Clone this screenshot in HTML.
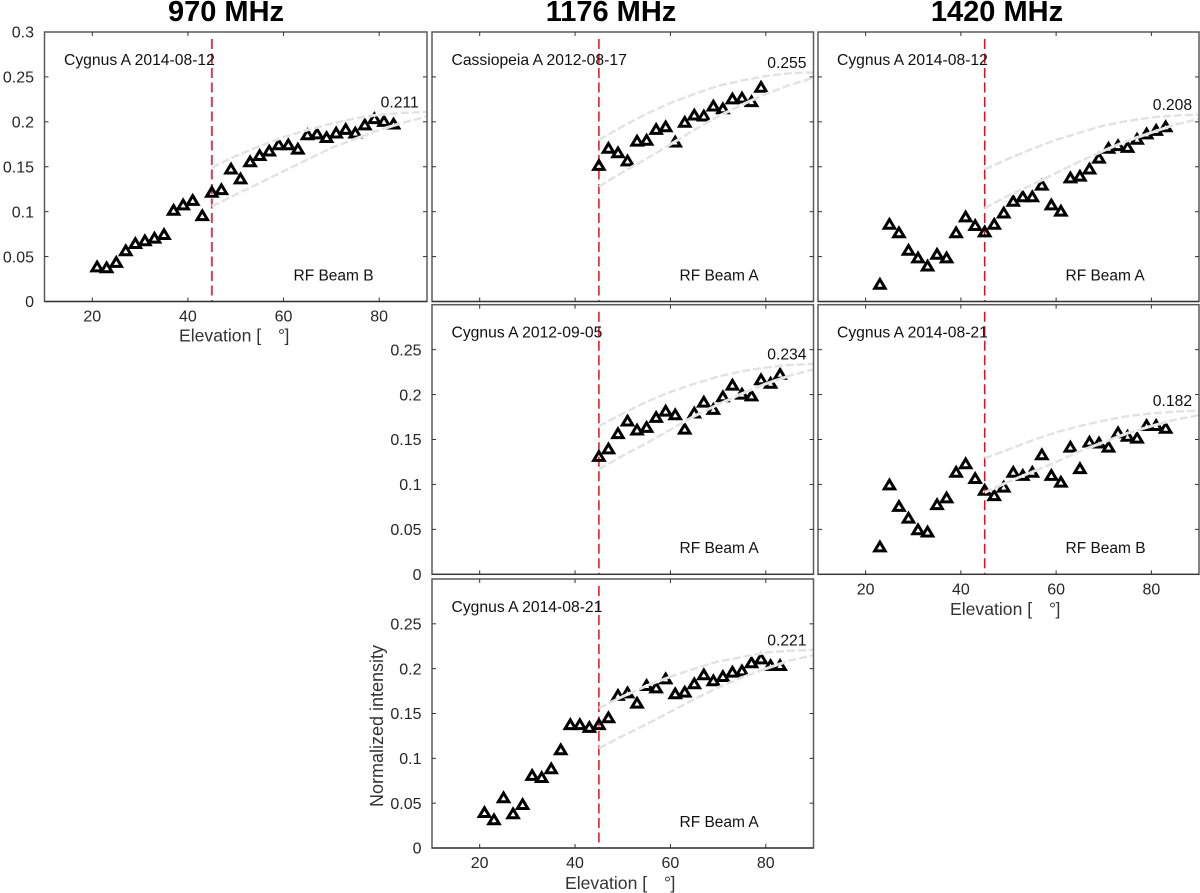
<!DOCTYPE html>
<html lang="en">
<head>
<meta charset="utf-8">
<title>Normalized intensity vs elevation</title>
<style>
html,body{margin:0;padding:0;background:#fff;}
svg{display:block;font-family:"Liberation Sans",Arial,sans-serif;}
.title{font-size:29px;font-weight:bold;fill:#000;text-anchor:middle;}
.note{font-size:15.7px;fill:#111;}
.beam{font-size:15.5px;fill:#111;}
.axis-title{font-size:17.6px;fill:#333;}
</style>
</head>
<body>
<svg id="chart" xmlns="http://www.w3.org/2000/svg" width="1200" height="893" viewBox="0 0 1200 893">
  <rect x="0" y="0" width="1200" height="893" fill="#fff"/>
  <g id="marks"></g>
  <text class="title" x="226" y="21">970 MHz</text>
  <text class="title" x="611" y="21">1176 MHz</text>
  <text class="title" x="997" y="21">1420 MHz</text>

  <text class="note" x="64" y="65">Cygnus A 2014-08-12</text>
  <text class="note" x="451.5" y="65">Cassiopeia A 2012-08-17</text>
  <text class="note" x="837" y="65">Cygnus A 2014-08-12</text>
  <text class="note" x="451.5" y="337.5">Cygnus A 2012-09-05</text>
  <text class="note" x="837" y="337.5">Cygnus A 2014-08-21</text>
  <text class="note" x="451.5" y="612">Cygnus A 2014-08-21</text>

  <text class="beam" x="293.5" y="280.5">RF Beam B</text>
  <text class="beam" x="679.5" y="280.5">RF Beam A</text>
  <text class="beam" x="1065.5" y="280.5">RF Beam A</text>
  <text class="beam" x="679.5" y="553">RF Beam A</text>
  <text class="beam" x="1065.5" y="553">RF Beam B</text>
  <text class="beam" x="679.5" y="827">RF Beam A</text>

  <g>
    <text class="axis-title" x="179" y="341.5">Elevation [</text>
    <text class="axis-title" x="278" y="341.5">°</text>
    <text class="axis-title" x="284.5" y="341.5">]</text>
  </g>
  <g>
    <text class="axis-title" x="950" y="615">Elevation [</text>
    <text class="axis-title" x="1049" y="615">°</text>
    <text class="axis-title" x="1055.5" y="615">]</text>
  </g>
  <g>
    <text class="axis-title" x="565" y="889">Elevation [</text>
    <text class="axis-title" x="664" y="889">°</text>
    <text class="axis-title" x="670.5" y="889">]</text>
  </g>
  <text class="axis-title" font-size="18" style="font-size:18px" text-anchor="middle" transform="translate(383,726) rotate(-90)">Normalized intensity</text>
</svg>
<script>
// ---- tick labels ----
const xTicks = [20, 40, 60, 80];
const yTicksFull = [0, 0.05, 0.1, 0.15, 0.2, 0.25, 0.3];
const yTickText = ['0', '0.05', '0.1', '0.15', '0.2', '0.25', '0.3'];
const xTickText = ['20', '40', '60', '80'];
const cutoffElevation = 45;
const curveElevations = [45, 50, 55, 60, 65, 70, 75, 80, 85, 90];

// ---- 970 MHz, Cygnus A 2014-08-12 ----
const elev970a = [21,23,25,27,29,31,33,35,37,39,41,43,45,47,49,51,53,55,57,59,61,63,65,67,69,71,73,75,77,79,81,83];
const values970a = [.039,.038,.044,.057,.065,.068,.071,.075,.102,.108,.113,.096,.122,.125,.148,.137,.156,.163,.168,.175,.175,.170,.186,.187,.183,.188,.192,.188,.197,.204,.201,.198];
const upper970a = [.149,.162,.173,.183,.191,.198,.204,.208,.210,.211];
const lower970a = [.106,.119,.132,.145,.158,.171,.181,.191,.199,.206];

// ---- 1176 MHz, Cassiopeia A 2012-08-17 ----
const elev1176a = [45,47,49,51,53,55,57,59,61,63,65,67,69,71,73,75,77,79];
const values1176a = [.152,.171,.166,.157,.179,.180,.192,.195,.178,.200,.208,.207,.218,.215,.226,.227,.223,.239];
const upper1176a = [.180,.195,.209,.221,.231,.240,.246,.251,.254,.255];
const lower1176a = [.128,.144,.159,.175,.191,.206,.219,.231,.241,.249];

// ---- 1420 MHz, Cygnus A 2014-08-12 ----
const elev1420a = [23,25,27,29,31,33,35,37,39,41,43,45,47,49,51,53,55,57,59,61,63,65,67,69,71,73,75,77,79,81,83];
const values1420a = [.0197,.0865,.077,.0575,.049,.040,.053,.049,.077,.0947,.085,.078,.0865,.099,.112,.117,.117,.130,.108,.101,.138,.140,.148,.160,.171,.174,.172,.181,.187,.191,.195];
const upper1420a = [.147,.159,.170,.180,.188,.196,.201,.205,.207,.208];
const lower1420a = [.104,.118,.130,.143,.156,.168,.179,.188,.197,.203];

// ---- 1176 MHz, Cygnus A 2012-09-05 ----
const elev1176b = [45,47,49,51,53,55,57,59,61,63,65,67,69,71,73,75,77,79,81,83];
const values1176b = [.1317,.140,.157,.171,.161,.164,.175,.182,.178,.162,.180,.192,.184,.198,.211,.201,.199,.217,.213,.223];
const upper1176b = [.165,.179,.192,.203,.212,.220,.226,.230,.233,.234];
const lower1176b = [.117,.132,.146,.161,.176,.189,.201,.212,.221,.228];

// ---- 1420 MHz, Cygnus A 2014-08-21 ----
const elev1420b = [23,25,27,29,31,33,35,37,39,41,43,45,47,49,51,53,55,57,59,61,63,65,67,69,71,73,75,77,79,81,83];
const values1420b = [.031,.100,.076,.063,.050,.0475,.078,.0855,.114,.1235,.107,.094,.088,.0975,.114,.1105,.114,.1335,.1105,.103,.142,.118,.1475,.1465,.142,.158,.154,.152,.166,.166,.163];
const upper1420b = [.129,.139,.149,.158,.165,.171,.176,.179,.181,.182];
const lower1420b = [.091,.103,.114,.125,.137,.147,.157,.165,.172,.177];

// ---- 1176 MHz, Cygnus A 2014-08-21 ----
const elev1176c = [21,23,25,27,29,31,33,35,37,39,41,43,45,47,49,51,53,55,57,59,61,63,65,67,69,71,73,75,77,79,81,83];
const values1176c = [.040,.032,.0565,.0386,.049,.0814,.079,.0888,.110,.138,.138,.135,.138,.1457,.1706,.1735,.162,.1817,.179,.189,.1724,.1743,.1836,.1936,.187,.1917,.1966,.198,.207,.2114,.204,.204];
const upper1176c = [.156,.169,.181,.191,.200,.208,.213,.218,.220,.221];
const lower1176c = [.111,.125,.138,.152,.166,.179,.190,.200,.209,.215];

// ---- printed peak values ----
const peakValues = [0.211, 0.255, 0.208, 0.234, 0.182, 0.221];
const peakText = ['0.211', '0.255', '0.208', '0.234', '0.182', '0.221'];

const xDomain = [10, 90];
const yDomain = [0, 0.3];

const panels = [
  {id:'970-a',  box:[44.5,427,32,301.5],   elev:elev970a,  vals:values970a,  up:upper970a,  lo:lower970a,  peak:0, xl:true,  yl:true,  top:true,  red:'#cf4156', rw:2},
  {id:'1176-a', box:[432,813.5,32,301.5],  elev:elev1176a, vals:values1176a, up:upper1176a, lo:lower1176a, peak:1, xl:false, yl:false, top:false, red:'#dc1020', rw:1.5},
  {id:'1420-a', box:[818,1199,32,301.5],   elev:elev1420a, vals:values1420a, up:upper1420a, lo:lower1420a, peak:2, xl:false, yl:false, top:false, red:'#dc1020', rw:1.5},
  {id:'1176-b', box:[432,813.5,304.7,574.3], elev:elev1176b, vals:values1176b, up:upper1176b, lo:lower1176b, peak:3, xl:false, yl:true,  top:false, red:'#dc1020', rw:1.5},
  {id:'1420-b', box:[818,1199,304.7,574.3],  elev:elev1420b, vals:values1420b, up:upper1420b, lo:lower1420b, peak:4, xl:true,  yl:false, top:false, red:'#dc1020', rw:1.5},
  {id:'1176-c', box:[432,813.5,579,848],   elev:elev1176c, vals:values1176c, up:upper1176c, lo:lower1176c, peak:5, xl:true,  yl:true,  top:false, red:'#dc1020', rw:1.5}
];

const NS = 'http://www.w3.org/2000/svg';
const root = document.getElementById('marks');

function make(parent, tag, attrs, text) {
  const el = document.createElementNS(NS, tag);
  for (const k in attrs) el.setAttribute(k, attrs[k]);
  if (text !== undefined) el.textContent = text;
  parent.appendChild(el);
  return el;
}
function xScale(p, v) {
  const [l, r] = p.box;
  return l + (v - xDomain[0]) / (xDomain[1] - xDomain[0]) * (r - l);
}
function yScale(p, v) {
  const [, , t, b] = p.box;
  return b - (v - yDomain[0]) / (yDomain[1] - yDomain[0]) * (b - t);
}
function fitPath(p, series) {
  return series.map((v, i) => (i ? 'L' : 'M') + xScale(p, curveElevations[i]).toFixed(2) + ' ' + yScale(p, v).toFixed(2)).join(' ');
}

panels.forEach(p => {
  const [l, r, t, b] = p.box;
  const g = make(root, 'g', {});
  
  

  // red cut-off line
  const redLine = make(g, 'line', {x1:xScale(p, cutoffElevation), x2:xScale(p, cutoffElevation), y1:t + 7, y2:b, stroke:p.red, 'stroke-width':p.rw, 'stroke-dasharray':'10 4.5'});
  
  

  // triangle markers
  const markerGroup = make(g, 'g', {fill:'none', stroke:'#000', 'stroke-width':3, 'stroke-linejoin':'miter', 'stroke-miterlimit':6});
  
  
  p.vals.forEach((v, i) => {
    const cx = xScale(p, p.elev[i]);
    const cy = yScale(p, v);
    const tri = make(markerGroup, 'path', {d:'M' + (cx - 5.2).toFixed(2) + ' ' + (cy + 4.4).toFixed(2) + ' L' + (cx + 5.2).toFixed(2) + ' ' + (cy + 4.4).toFixed(2) + ' L' + cx.toFixed(2) + ' ' + (cy - 4.3).toFixed(2) + ' Z'});
    
    
  });

  // fit envelope curves (white halo + grey dashes, on top of markers)
  [['upper', p.up], ['lower', p.lo]].forEach(([name, series]) => {
    const halo = make(g, 'path', {d:fitPath(p, series), fill:'none', stroke:'#fff', 'stroke-width':3, opacity:0.9});
    
    
    const curve = make(g, 'path', {d:fitPath(p, series), fill:'none', stroke:'#e2e2e2', 'stroke-width':2.4, 'stroke-dasharray':'8 3'});
    
    
  });

  // peak value label
  const peakLabel = make(g, 'text', {x:xScale(p, 80.3), y:yScale(p, peakValues[p.peak]) - 4.5, 'font-size':15.7, fill:'#111'}, peakText[p.peak]);
  
  

  // frame
  const frame = make(g, 'rect', {x:l, y:t, width:r - l, height:b - t, fill:'none', stroke:'#5a5a5a', 'stroke-width':1.5});
  
  
  const baseLine = make(g, 'line', {x1:l, x2:r, y1:b, y2:b, stroke:'#333', 'stroke-width':1.2});
  
  

  // x ticks
  xTicks.forEach((v, i) => {
    const x = xScale(p, v);
    const tickB = make(g, 'line', {x1:x, x2:x, y1:b, y2:b - 4, stroke:'#333', 'stroke-width':1});
    
    
    const tickT = make(g, 'line', {x1:x, x2:x, y1:t, y2:t + 4, stroke:'#333', 'stroke-width':1});
    
    
    if (p.xl) {
      const lab = make(g, 'text', {x:x, y:b + 20, 'text-anchor':'middle', 'font-size':16, fill:'#262626'}, xTickText[i]);
      
      
    }
  });

  // y ticks
  yTicksFull.forEach((v, i) => {
    const y = yScale(p, v);
    if (v > 0 && v < yDomain[1]) {
      const tickL = make(g, 'line', {x1:l, x2:l + 4, y1:y, y2:y, stroke:'#333', 'stroke-width':1});
      
      
      const tickR = make(g, 'line', {x1:r, x2:r - 4, y1:y, y2:y, stroke:'#333', 'stroke-width':1});
      
      
    }
    if (p.yl && (p.top || v < yDomain[1])) {
      const lab = make(g, 'text', {x:l - 10.5, y:y + 5.7, 'text-anchor':'end', 'font-size':16, fill:'#262626'}, yTickText[i]);
      
      
    }
  });
});
</script>
</body>
</html>
